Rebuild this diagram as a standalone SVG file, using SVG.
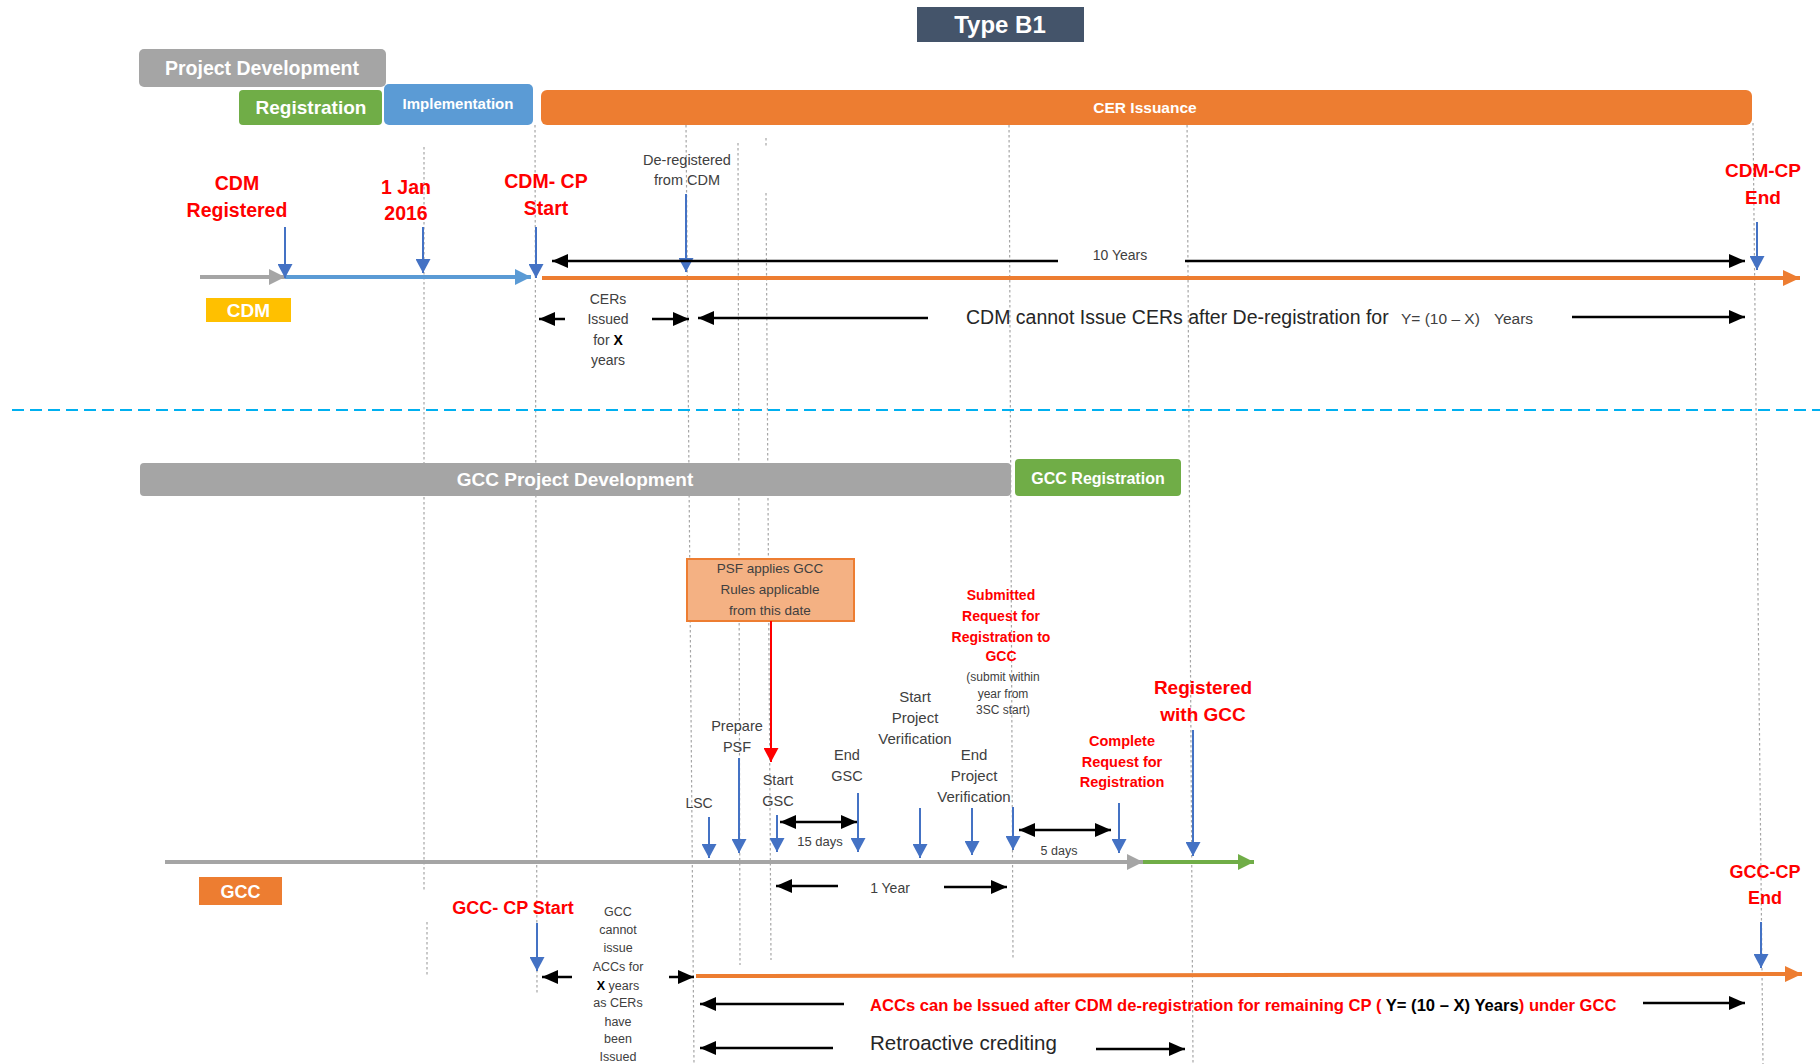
<svg xmlns="http://www.w3.org/2000/svg" width="1820" height="1064" viewBox="0 0 1820 1064">
<defs>
<style>
text{font-family:"Liberation Sans",Arial,sans-serif;}
.w{fill:#fff;font-weight:bold;text-anchor:middle;}
.r{fill:#ff0000;font-weight:bold;text-anchor:middle;}
.d{fill:#404040;text-anchor:middle;}
.dl{fill:#262626;}
.vd{stroke:#a6a6a6;stroke-width:1.2;stroke-dasharray:2.5 2.5;fill:none;}
.ba{stroke:#4472c4;stroke-width:2;marker-end:url(#mBlue);}
.bk{stroke:#000;stroke-width:2.5;marker-end:url(#mBlack);}
.bk2{stroke:#000;stroke-width:2.5;marker-end:url(#mBlack);marker-start:url(#mBlack);}
</style>
<marker id="mBlue" markerUnits="userSpaceOnUse" markerWidth="15" markerHeight="15" refX="14" refY="7.5" orient="auto"><path d="M0,0 L14,7.5 L0,15 z" fill="#4472c4"/></marker>
<marker id="mBlack" markerUnits="userSpaceOnUse" markerWidth="16" markerHeight="14" refX="16" refY="7" orient="auto-start-reverse"><path d="M0,0 L16,7 L0,14 z" fill="#000"/></marker>
<marker id="mOrange" markerUnits="userSpaceOnUse" markerWidth="17" markerHeight="16" refX="17" refY="8" orient="auto"><path d="M0,0 L17,8 L0,16 z" fill="#ed7d31"/></marker>
<marker id="mGray" markerUnits="userSpaceOnUse" markerWidth="16" markerHeight="16" refX="16" refY="8" orient="auto"><path d="M0,0 L16,8 L0,16 z" fill="#a5a5a5"/></marker>
<marker id="mLBlue" markerUnits="userSpaceOnUse" markerWidth="16" markerHeight="16" refX="16" refY="8" orient="auto"><path d="M0,0 L16,8 L0,16 z" fill="#5b9bd5"/></marker>
<marker id="mGreen" markerUnits="userSpaceOnUse" markerWidth="16" markerHeight="16" refX="16" refY="8" orient="auto"><path d="M0,0 L16,8 L0,16 z" fill="#70ad47"/></marker>
<marker id="mRed" markerUnits="userSpaceOnUse" markerWidth="15" markerHeight="15" refX="14" refY="7.5" orient="auto"><path d="M0,0 L14,7.5 L0,15 z" fill="#ff0000"/></marker>
</defs>
<rect width="1820" height="1064" fill="#fff"/>

<g id="guides">
<line class="vd" x1="424" y1="147" x2="424" y2="892"/>
<line class="vd" x1="427" y1="922" x2="427" y2="975"/>
<line class="vd" x1="535" y1="125" x2="537" y2="993"/>
<line class="vd" x1="686" y1="125" x2="694" y2="1064"/>
<line class="vd" x1="738" y1="143" x2="740" y2="965"/>
<line class="vd" x1="766" y1="138" x2="766" y2="148"/>
<line class="vd" x1="766" y1="193" x2="771" y2="960"/>
<line class="vd" x1="1009" y1="120" x2="1013" y2="958"/>
<line class="vd" x1="1187" y1="115" x2="1193" y2="1064"/>
<line class="vd" x1="1753" y1="123" x2="1763" y2="1064"/>
<line x1="12" y1="410" x2="1820" y2="410" stroke="#00b0f0" stroke-width="2" stroke-dasharray="12 6"/>
</g>

<g id="title"><rect x="917" y="7" width="167" height="35" fill="#44546a"/><text class="w" x="1000" y="33" font-size="24">Type B1</text></g>
<g id="project-development"><rect x="139" y="49" width="247" height="38" rx="5" fill="#a5a5a5"/><text class="w" x="262" y="75" font-size="19.5">Project Development</text></g>
<g id="registration"><rect x="239" y="90" width="143" height="35" rx="4" fill="#70ad47"/><text class="w" x="311" y="114" font-size="19">Registration</text></g>
<g id="implementation"><rect x="384" y="84" width="149" height="41" rx="5" fill="#5b9bd5"/><text class="w" x="458" y="109" font-size="15">Implementation</text></g>
<g id="cer-issuance"><rect x="541" y="90" width="1211" height="35" rx="6" fill="#ed7d31"/><text class="w" x="1145" y="112.5" font-size="15.5">CER Issuance</text></g>
<g id="cdm-label"><rect x="206" y="298" width="85" height="24" fill="#ffc000"/><text class="w" x="248.5" y="317" font-size="19" font-weight="normal">CDM</text></g>

<g id="cdm-registered"><text class="r" font-size="19.5"><tspan x="237" y="190">CDM</tspan><tspan x="237" y="217">Registered</tspan></text></g>
<g id="jan-2016"><text class="r" font-size="19.5"><tspan x="406" y="194">1 Jan</tspan><tspan x="406" y="220">2016</tspan></text></g>
<g id="cdm-cp-start"><text class="r" font-size="19.5"><tspan x="546" y="188">CDM- CP</tspan><tspan x="546" y="215">Start</tspan></text></g>
<g id="deregistered"><text class="d" font-size="14.5"><tspan x="687" y="165">De-registered</tspan><tspan x="687" y="185">from CDM</tspan></text></g>
<g id="cdm-cp-end"><text class="r" font-size="19"><tspan x="1763" y="177">CDM-CP</tspan><tspan x="1763" y="204">End</tspan></text></g>
<g id="ten-years"><text class="d" x="1120" y="260" font-size="14">10 Years</text></g>
<g id="cers-issued"><text class="d" font-size="14"><tspan x="608" y="304">CERs</tspan><tspan x="608" y="324">Issued</tspan><tspan x="608" y="345">for <tspan font-weight="bold" fill="#000">X</tspan></tspan><tspan x="608" y="365">years</tspan></text></g>
<g id="cdm-cannot"><text class="dl" y="324" font-size="19.5"><tspan x="966">CDM cannot Issue CERs after De-registration for</tspan><tspan x="1401" font-size="15.5" fill="#404040">Y= (10 – X)</tspan><tspan x="1494" font-size="15.5" fill="#404040">Years</tspan></text></g>

<g id="gcc-project-development"><rect x="140" y="463" width="871" height="33" rx="4" fill="#a5a5a5"/><text class="w" x="575" y="486" font-size="19">GCC Project Development</text></g>
<g id="gcc-registration"><rect x="1015" y="459" width="166" height="37" rx="4" fill="#70ad47"/><text class="w" x="1098" y="483.5" font-size="16">GCC Registration</text></g>
<g id="psf-box"><rect x="687" y="559" width="167" height="62" fill="#f4b183" stroke="#ed7d31" stroke-width="2"/><text class="d" fill="#262626" font-size="13.5"><tspan x="770" y="573">PSF applies GCC</tspan><tspan x="770" y="594">Rules applicable</tspan><tspan x="770" y="615">from this date</tspan></text></g>
<g id="lsc"><text class="d" x="699" y="808" font-size="14">LSC</text></g>
<g id="prepare-psf"><text class="d" font-size="14.5"><tspan x="737" y="731">Prepare</tspan><tspan x="737" y="752">PSF</tspan></text></g>
<g id="start-gsc"><text class="d" font-size="14.5"><tspan x="778" y="785">Start</tspan><tspan x="778" y="806">GSC</tspan></text></g>
<g id="end-gsc"><text class="d" font-size="14.5"><tspan x="847" y="760">End</tspan><tspan x="847" y="781">GSC</tspan></text></g>
<g id="fifteen-days"><text class="d" x="820" y="846" font-size="13">15 days</text></g>
<g id="start-pv"><text class="d" font-size="15"><tspan x="915" y="702">Start</tspan><tspan x="915" y="723">Project</tspan><tspan x="915" y="744">Verification</tspan></text></g>
<g id="end-pv"><text class="d" font-size="15"><tspan x="974" y="760">End</tspan><tspan x="974" y="781">Project</tspan><tspan x="974" y="802">Verification</tspan></text></g>
<g id="submitted"><text class="r" font-size="14"><tspan x="1001" y="600">Submitted</tspan><tspan x="1001" y="621">Request for</tspan><tspan x="1001" y="642">Registration to</tspan><tspan x="1001" y="661">GCC</tspan></text><text class="d" font-size="12"><tspan x="1003" y="681">(submit within</tspan><tspan x="1003" y="698">year from</tspan><tspan x="1003" y="714">3SC start)</tspan></text></g>
<g id="five-days"><text class="d" x="1059" y="855" font-size="12.5">5 days</text></g>
<g id="complete-request"><text class="r" font-size="14.5"><tspan x="1122" y="746">Complete</tspan><tspan x="1122" y="767">Request for</tspan><tspan x="1122" y="787">Registration</tspan></text></g>
<g id="registered-gcc"><text class="r" font-size="19"><tspan x="1203" y="694">Registered</tspan><tspan x="1203" y="721">with GCC</tspan></text></g>
<g id="one-year"><text class="d" x="890" y="893" font-size="14">1 Year</text></g>
<g id="gcc-label"><rect x="199" y="877" width="83" height="28" fill="#ed7d31"/><text class="w" x="240.5" y="897.5" font-size="18" font-weight="normal">GCC</text></g>
<g id="gcc-cp-start"><text class="r" x="513" y="914" font-size="18">GCC- CP Start</text></g>
<g id="gcc-cannot"><text class="d" font-size="12.5"><tspan x="618" y="916">GCC</tspan><tspan x="618" y="934">cannot</tspan><tspan x="618" y="952">issue</tspan><tspan x="618" y="971">ACCs for</tspan><tspan x="618" y="990"><tspan font-weight="bold" fill="#000">X</tspan> years</tspan><tspan x="618" y="1007">as CERs</tspan><tspan x="618" y="1026">have</tspan><tspan x="618" y="1043">been</tspan><tspan x="618" y="1061">Issued</tspan></text></g>
<g id="gcc-cp-end"><text class="r" font-size="18"><tspan x="1765" y="878">GCC-CP</tspan><tspan x="1765" y="904">End</tspan></text></g>
<g id="accs-text"><text x="870" y="1011" font-size="16.6" font-weight="bold" fill="#ff0000">ACCs can be Issued after CDM de-registration for remaining CP ( <tspan fill="#000">Y= (10 – X)  Years</tspan>) under GCC</text></g>
<g id="retroactive"><text class="dl" x="870" y="1050" font-size="20.5">Retroactive crediting</text></g>

<g id="connectors">
<line x1="200" y1="277" x2="285" y2="277" stroke="#a5a5a5" stroke-width="4" marker-end="url(#mGray)"/>
<line x1="285" y1="277" x2="531" y2="277" stroke="#5b9bd5" stroke-width="4" marker-end="url(#mLBlue)"/>
<line x1="542" y1="278" x2="1800" y2="278" stroke="#ed7d31" stroke-width="4" marker-end="url(#mOrange)"/>
<line x1="165" y1="862" x2="1143" y2="862" stroke="#a5a5a5" stroke-width="4" marker-end="url(#mGray)"/>
<line x1="1143" y1="862" x2="1254" y2="862" stroke="#70ad47" stroke-width="4" marker-end="url(#mGreen)"/>
<line x1="696" y1="976" x2="1802" y2="974" stroke="#ed7d31" stroke-width="4" marker-end="url(#mOrange)"/>

<line class="ba" x1="285" y1="227" x2="285" y2="278"/>
<line class="ba" x1="423" y1="227" x2="423" y2="273"/>
<line class="ba" x1="536" y1="227" x2="536" y2="278"/>
<line class="ba" x1="686" y1="194" x2="686" y2="272"/>
<line class="ba" x1="1757" y1="222" x2="1757" y2="270"/>
<line class="ba" x1="709" y1="817" x2="709" y2="858"/>
<line class="ba" x1="739" y1="758" x2="739" y2="853"/>
<line class="ba" x1="777" y1="815" x2="777" y2="852"/>
<line class="ba" x1="858" y1="793" x2="858" y2="852"/>
<line class="ba" x1="920" y1="808" x2="920" y2="858"/>
<line class="ba" x1="972" y1="808" x2="972" y2="855"/>
<line class="ba" x1="1013" y1="807" x2="1013" y2="850"/>
<line class="ba" x1="1119" y1="803" x2="1119" y2="853"/>
<line class="ba" x1="1193" y1="730" x2="1193" y2="856"/>
<line class="ba" x1="537" y1="923" x2="537" y2="971"/>
<line class="ba" x1="1761" y1="922" x2="1761" y2="968"/>
<line x1="771" y1="621" x2="771" y2="762" stroke="#ff0000" stroke-width="2" marker-end="url(#mRed)"/>

<line class="bk" x1="1058" y1="261" x2="552" y2="261"/>
<line class="bk" x1="1185" y1="261" x2="1745" y2="261"/>
<line class="bk" x1="565" y1="319" x2="539" y2="319"/>
<line class="bk" x1="652" y1="319" x2="689" y2="319"/>
<line class="bk" x1="928" y1="318" x2="698" y2="318"/>
<line class="bk" x1="1572" y1="317" x2="1745" y2="317"/>
<line class="bk2" x1="780" y1="822" x2="857" y2="822"/>
<line class="bk2" x1="1019" y1="830" x2="1111" y2="830"/>
<line class="bk" x1="838" y1="886" x2="776" y2="886"/>
<line class="bk" x1="944" y1="887" x2="1007" y2="887"/>
<line class="bk" x1="572" y1="977" x2="542" y2="977"/>
<line class="bk" x1="669" y1="977" x2="694" y2="977"/>
<line class="bk" x1="844" y1="1004" x2="700" y2="1004"/>
<line class="bk" x1="1643" y1="1003" x2="1745" y2="1003"/>
<line class="bk" x1="833" y1="1048" x2="700" y2="1048"/>
<line class="bk" x1="1096" y1="1049" x2="1185" y2="1049"/>
</g>
</svg>
